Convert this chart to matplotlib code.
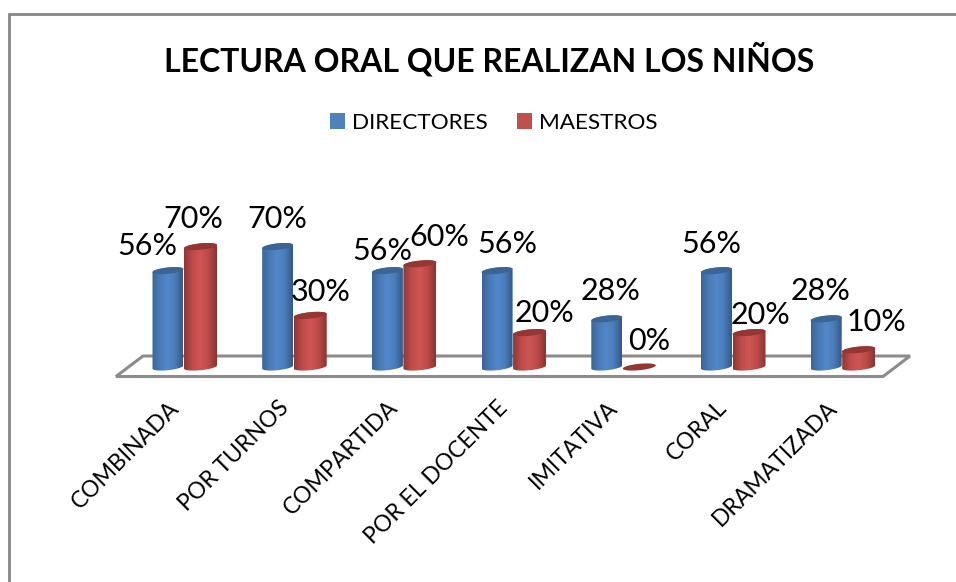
import matplotlib
matplotlib.use("Agg")
import matplotlib.pyplot as plt
import numpy as np
from matplotlib.colors import LinearSegmentedColormap
from matplotlib.patches import Patch, PathPatch, Polygon, Rectangle
from matplotlib.path import Path

plt.rcParams['font.family'] = ['Lato', 'DejaVu Sans']

categories = ["COMBINADA", "POR TURNOS", "COMPARTIDA", "POR EL DOCENTE", "IMITATIVA", "CORAL", "DRAMATIZADA"]
directores = [56, 70, 56, 56, 28, 56, 28]
maestros = [70, 30, 60, 20, 0, 20, 10]

# label offsets from the top of each cylinder, in pixels
offsetsDirectores = [(-21, 25), (0, 28), (-5, 20), (10, 27), (4, 28), (-5, 27), (-6, 28)]
offsetsMaestros = [(-7, 28), (10, 23), (19, 27), (15, 20), (10, 26), (12, 18), (18, 28)]

W, H = 956, 582
pxX = 109.7   # pixels per category
pxY = 1.72    # pixels per percent
x0, y0 = 184, 367  # pixel position of first group centre / zero line

fig = plt.figure(figsize=(W / 100, H / 100), dpi=100)
ax = fig.add_axes([0, 0, 1, 1])
ax.set_xlim(-x0 / pxX, (W - x0) / pxX)
ax.set_ylim(-(H - y0) / pxY, y0 / pxY)
ax.set_axis_off()

# chart border, cut off by the right and bottom edges of the picture
fig.add_artist(Rectangle((9 / W, -0.05), 1.05, 1.05 - 14 / H, transform=fig.transFigure,
                         fill=False, edgecolor="#868686", linewidth=2))


def dx(px):
    return px / pxX


def dy(px):
    return px / pxY


# floor
floor = [(dx(143 - x0), dy(y0 - 356)), (dx(910 - x0), dy(y0 - 356)),
         (dx(883 - x0), dy(y0 - 376.5)), (dx(116 - x0), dy(y0 - 376.5))]
ax.add_patch(Polygon(floor, closed=True, facecolor="white", edgecolor="#8c8c8c", linewidth=2.2, zorder=1))

blueMap = LinearSegmentedColormap.from_list("b", ["#3a659a", "#4a7ab5", "#5288cb", "#4a7cb8", "#33598a"])
redMap = LinearSegmentedColormap.from_list("r", ["#8f3735", "#bd4c49", "#cf5653", "#bb4a47", "#8a3432"])
gradient = np.linspace(0, 1, 64).reshape(1, -1)


def drawCylinder(center, value, halfWidth, cmap, topColor, order):
    t = np.linspace(0, 2 * np.pi, 60)
    a = dx(halfWidth)
    b = dy(3.2)
    tilt = dy(1.6)
    ex = center + a * np.cos(t)
    eyTop = value + b * np.sin(t) + tilt * np.cos(t)
    if value > 0:
        # side of the cylinder with the rounded bottom edge
        lower = np.linspace(np.pi, 2 * np.pi, 30)
        bx = center + a * np.cos(lower)
        by = b * np.sin(lower) + tilt * np.cos(lower)
        upper = np.linspace(0, np.pi, 30)
        tx = center + a * np.cos(upper)
        ty = value + b * np.sin(upper) + tilt * np.cos(upper)
        verts = np.column_stack([np.r_[bx, tx], np.r_[by, ty]])
        patch = PathPatch(Path(np.vstack([verts, verts[0]]), closed=True), facecolor="none",
                          edgecolor="none", zorder=order)
        ax.add_patch(patch)
        im = ax.imshow(gradient, extent=(center - a, center + a, -dy(6), value + dy(6)), cmap=cmap,
                       aspect="auto", zorder=order)
        im.set_clip_path(patch)
    ax.fill(ex, eyTop, color=topColor, zorder=order + 0.1, linewidth=0)


for i, category in enumerate(categories):
    drawCylinder(i - dx(16), directores[i], 15.5, blueMap, "#3b6594", 3 + i)
    drawCylinder(i + dx(16.5), maestros[i], 16.5, redMap, "#933634", 3.5 + i)

    ax.annotate(f"{directores[i]}%", (i - dx(16), directores[i]), xytext=offsetsDirectores[i],
                textcoords="offset pixels", ha="center", va="center", fontsize=22, color="black", zorder=20)
    ax.annotate(f"{maestros[i]}%", (i + dx(16.5), maestros[i]), xytext=offsetsMaestros[i],
                textcoords="offset pixels", ha="center", va="center", fontsize=22, color="black", zorder=20)

    ax.annotate(category, (i, 0), xytext=(-16, -30), textcoords="offset pixels", rotation=45,
                rotation_mode="anchor", ha="right", va="top", fontsize=16.5, color="black")

ax.set_xlim(-x0 / pxX, (W - x0) / pxX)
ax.set_ylim(-(H - y0) / pxY, y0 / pxY)

fig.text(489 / W, 1 - 59 / H, "LECTURA ORAL QUE REALIZAN LOS NIÑOS", ha="center", va="center",
         fontsize=23, fontweight="bold", color="black")

handles = [Patch(facecolor="#4f81bd", label="DIRECTORES"), Patch(facecolor="#c0504d", label="MAESTROS")]
fig.legend(handles=handles, loc="center", bbox_to_anchor=(494 / W, 1 - 123 / H), ncol=2, frameon=False,
           fontsize=16.2, handlelength=0.67, handleheight=0.67, handletextpad=0.31, columnspacing=1.3)

fig.savefig("out.png", dpi=100)
